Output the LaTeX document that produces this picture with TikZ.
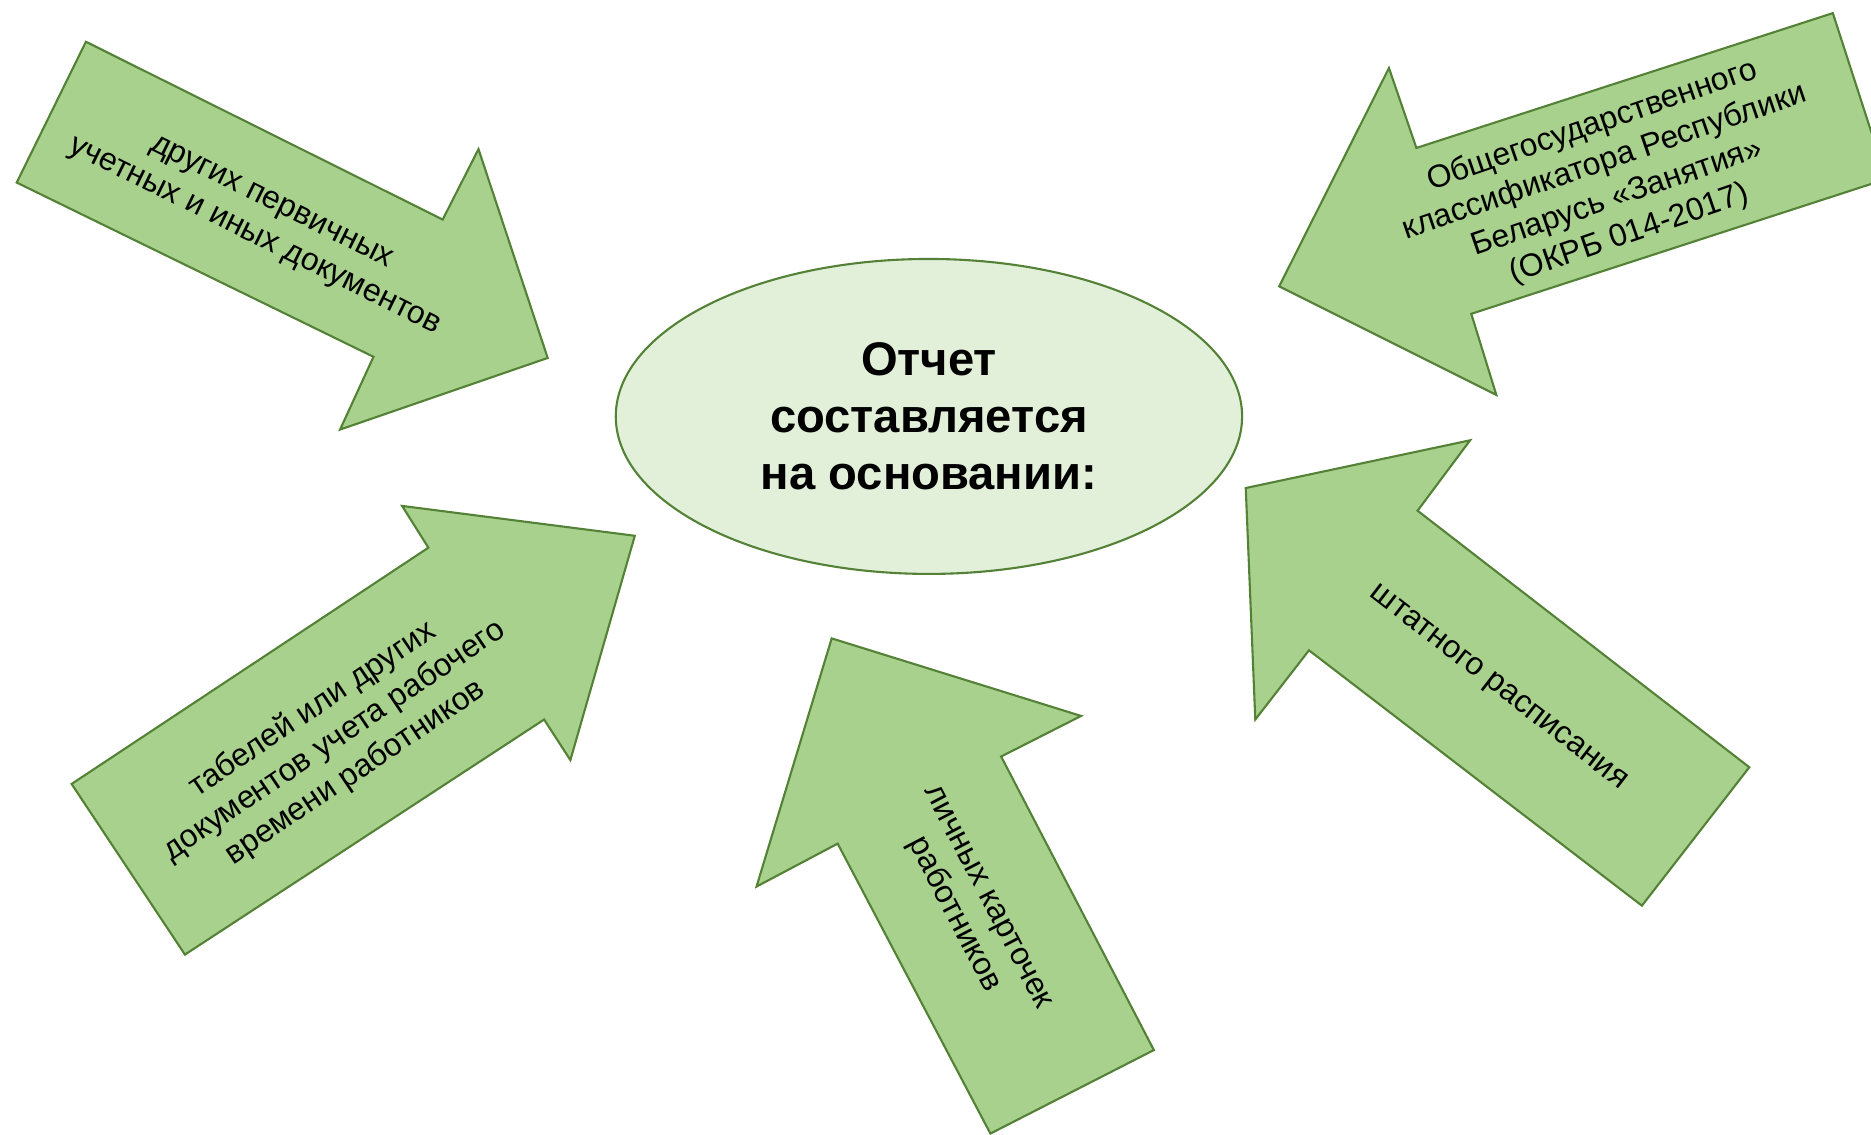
\documentclass[tikz,border=0pt]{standalone}
\usepackage{fontspec}
\setmainfont{Liberation Sans}
\usetikzlibrary{shapes.geometric}

\definecolor{arrowgreen}{HTML}{A9D18E}
\definecolor{hubgreen}{HTML}{E2F0D9}
\definecolor{edgegreen}{HTML}{538135}

\begin{document}
\begin{tikzpicture}[
      x=0.02cm, y=0.02cm,
      every node/.style={font=\fontsize{15.2}{18.2}\selectfont},
      srcarrow/.style={fill=arrowgreen, draw=edgegreen, line width=1pt},
      srctext/.style={align=center, inner sep=0pt},
      hub/.style={ellipse, fill=hubgreen, draw=edgegreen, line width=1pt,
        minimum width=10.5cm, minimum height=5.28cm, inner sep=0pt,
        align=center, font=\fontsize{22.5}{27.3}\selectfont\bfseries}
    ]
    \clip (0,0) rectangle (1568,951);

    % Centre
    \node[hub] (report) at (778.5,602) {Отчет\\составляется\\на основании:};

    % Arrows
    \draw[srcarrow] (72,916) -- (371,767) -- (401,826) -- (459,651)
      -- (285,591) -- (313,652) -- (14,798) -- cycle;
    \draw[srcarrow] (1536,940) -- (1187,827) -- (1164,894) -- (1072,711)
      -- (1254,620) -- (1233,688) -- (1581,801) -- cycle;
    \draw[srcarrow] (60,294) -- (359,492) -- (337,527) -- (532,502)
      -- (478,314) -- (456,348) -- (155,151) -- cycle;
    \draw[srcarrow] (697,416) -- (906,351) -- (839,317) -- (967,71)
      -- (830,1) -- (702,244) -- (634,208) -- cycle;
    \draw[srcarrow] (1044,542) -- (1232,582) -- (1188,523) -- (1466,308)
      -- (1376,192) -- (1097,406) -- (1052,348) -- cycle;

    % Labels
    \node[srctext, rotate=-26.3] (primary) at (220,766)
      {других первичных\\учетных и иных документов};
    \node[srctext, rotate=19] (classifier) at (1350,800)
      {Общегосударственного\\классификатора Республики\\Беларусь «Занятия»\\(ОКРБ 014-2017)};
    \node[srctext, rotate=34] (timesheets) at (280,330)
      {табелей или других\\документов учета рабочего\\времени работников};
    \node[srctext, rotate=-62.5] (cards) at (812,191)
      {личных карточек\\работников};
    \node[srctext, rotate=-37.7] (staffing) at (1255,374)
      {штатного расписания};
\end{tikzpicture}
\end{document}
